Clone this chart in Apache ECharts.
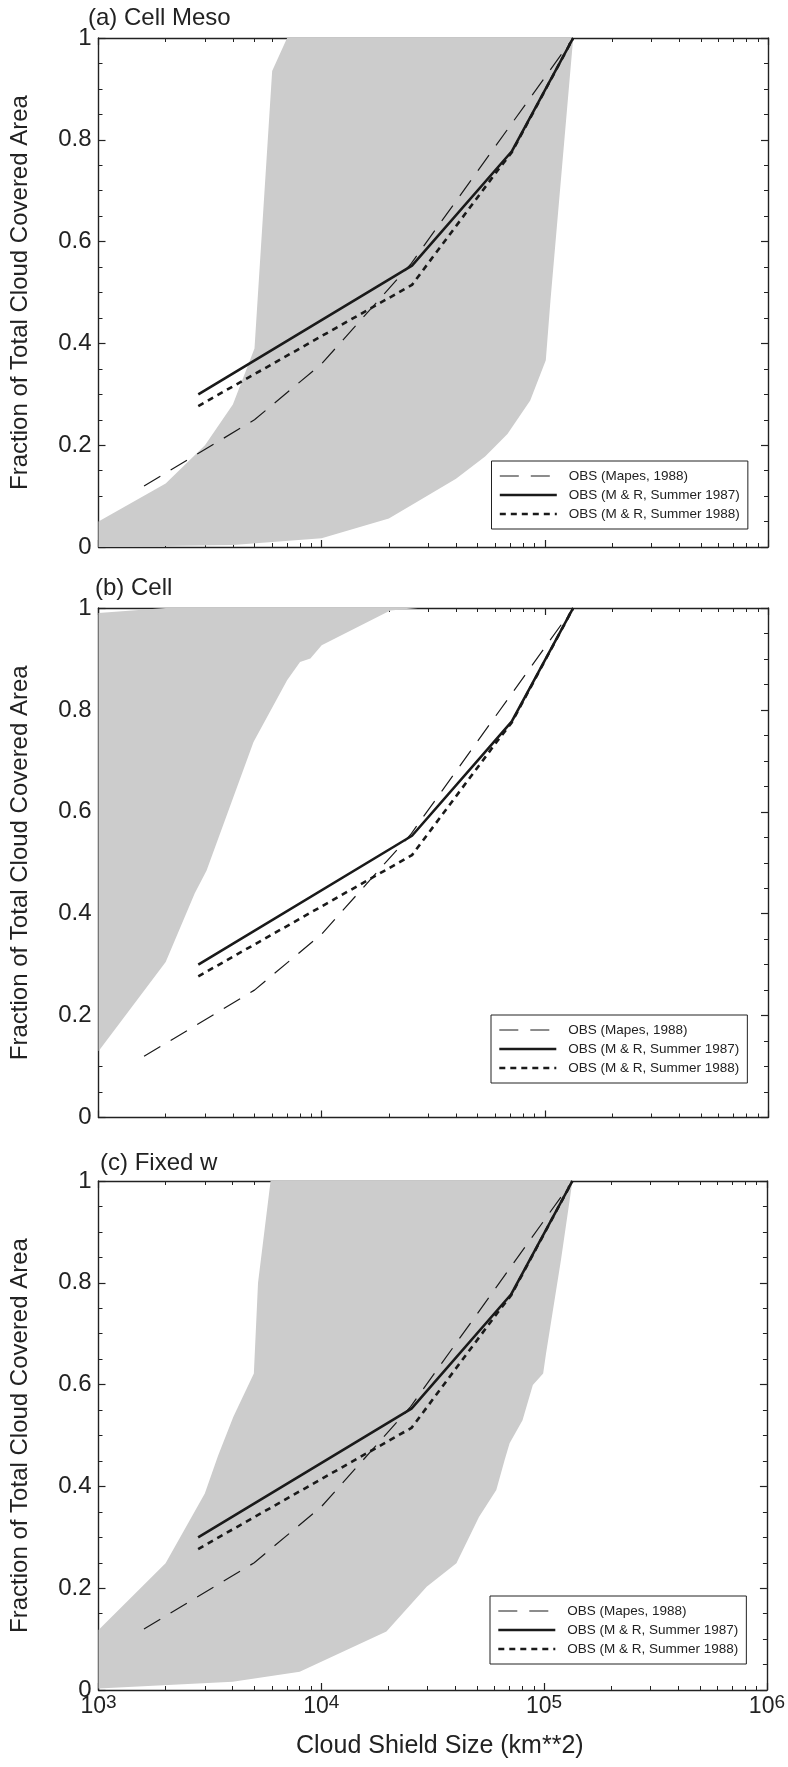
<!DOCTYPE html>
<html>
<head>
<meta charset="utf-8">
<script src="https://cdn.jsdelivr.net/npm/echarts@6/dist/echarts.min.js"></script>
<style>
html,body{margin:0;padding:0;background:#fff;}
#c{width:788px;height:1767px;}
</style>
</head>
<body>
<div id="c"></div>
<script>
// ---------- data ----------
const panelTitles = ['(a) Cell Meso', '(b) Cell', '(c) Fixed w'];
const seriesNames = ['OBS (Mapes, 1988)', 'OBS (M & R, Summer 1987)', 'OBS (M & R, Summer 1988)'];
const xMajorTicks = [1000, 10000, 100000, 1000000];
const xMinorTicks = [2000,3000,4000,5000,6000,7000,8000,9000,
                     20000,30000,40000,50000,60000,70000,80000,90000,
                     200000,300000,400000,500000,600000,700000,800000,900000];
const yMin = 0, yMax = 1, yInterval = 0.2;

// observations (same in every panel): [cloud shield size km^2, fraction]
const obsMapes = [[1600,0.12],[5000,0.25],[10000,0.36],[25000,0.555],[134000,1.0]];
const obs1987  = [[2800,0.30],[25400,0.553],[71000,0.777],[134000,1.0]];
const obs1988  = [[2800,0.277],[25400,0.515],[62000,0.742],[71000,0.775],[134000,1.0]];

// shaded model ranges (polygon outlines)
const bandA = [[1000,0],[1000,0.05],[2000,0.125],[3000,0.2],[4000,0.28],[5000,0.39],[6000,0.935],[7000,1.0],
               [134000,1.0],[106000,0.485],[101000,0.367],[86000,0.288],[68000,0.222],[54000,0.178],
               [40000,0.134],[26800,0.089],[20000,0.056],[10000,0.017],[4000,0.004],[1000,0]];
const bandB = [[1000,0.13],[2000,0.305],[2700,0.44],[3050,0.485],[4950,0.737],[7000,0.858],[8000,0.894],
               [8900,0.901],[10000,0.927],[20300,0.995],[27000,1.0],[2000,1.0],[1000,0.99]];
const bandC = [[1000,0.003],[1000,0.118],[2000,0.249],[3000,0.386],[3440,0.46],[4030,0.537],[4980,0.622],
               [5200,0.8],[5920,1.0],[134000,1.0],[119000,0.845],[102000,0.661],[99000,0.622],[89000,0.599],
               [80000,0.53],[70000,0.485],[66500,0.452],[61000,0.393],[51000,0.34],[40400,0.249],
               [29700,0.203],[19600,0.115],[8000,0.036],[4000,0.016],[1000,0.003]];
const bands = [bandA, bandB, bandC];

// ---------- layout ----------
const FONT = '"Liberation Sans", Arial, Helvetica, sans-serif';
const INK = '#222';
const LINE = '#1a1a1a';
const grids = [
  {left: 98.5, top: 38, width: 669.5, height: 509},
  {left: 98.5, top: 608, width: 669.5, height: 509.5},
  {left: 98.5, top: 1181, width: 669.5, height: 509}
];
const legendPos = [{left: 491.5, top: 461}, {left: 491, top: 1015}, {left: 490, top: 1596}];
const titlePos = [{left: 88, top: 6}, {left: 95, top: 576}, {left: 100, top: 1151}];

const xAxes = [], yAxes = [], series = [], legends = [], titles = [];

grids.forEach((g, gi) => {
  const xb = gi * 4, yb = gi * 2;
  const common = {type: 'log', logBase: 10, min: 1000, max: 1000000, gridIndex: gi,
                  splitLine: {show: false}, minorSplitLine: {show: false}};
  // bottom major
  xAxes.push(Object.assign({}, common, {
    position: 'bottom',
    axisLine: {show: true, lineStyle: {color: INK, width: 1.4}},
    axisTick: {show: true, inside: true, length: 7, customValues: xMajorTicks, lineStyle: {color: INK, width: 1.2}},
    axisLabel: {
      show: gi === 2, margin: 3, customValues: xMajorTicks,
      color: INK, fontFamily: FONT, fontSize: 23,
      formatter: v => '10{s|' + Math.round(Math.log10(v)) + '}',
      rich: {s: {fontSize: 19, fontFamily: FONT, color: INK, verticalAlign: 'top', padding: [0, 0, 8, 0]}}
    }
  }));
  // bottom minor
  xAxes.push(Object.assign({}, common, {
    position: 'bottom',
    axisLine: {show: false},
    axisTick: {show: true, inside: true, length: 4, customValues: xMinorTicks, lineStyle: {color: INK, width: 1}},
    axisLabel: {show: false}
  }));
  // top major
  xAxes.push(Object.assign({}, common, {
    position: 'top',
    axisLine: {show: true, lineStyle: {color: INK, width: 1.4}},
    axisTick: {show: true, inside: true, length: 7, customValues: xMajorTicks, lineStyle: {color: INK, width: 1.2}},
    axisLabel: {show: false}
  }));
  // top minor
  xAxes.push(Object.assign({}, common, {
    position: 'top',
    axisLine: {show: false},
    axisTick: {show: true, inside: true, length: 4, customValues: xMinorTicks, lineStyle: {color: INK, width: 1}},
    axisLabel: {show: false}
  }));

  const ycommon = {type: 'value', min: yMin, max: yMax, interval: yInterval, gridIndex: gi,
    splitLine: {show: false},
    axisLine: {show: true, lineStyle: {color: INK, width: 1.4}},
    axisTick: {show: true, inside: true, length: 7, lineStyle: {color: INK, width: 1.2}},
    minorTick: {show: true, splitNumber: 4, length: 4, lineStyle: {color: INK, width: 1}}
  };
  yAxes.push(Object.assign({}, ycommon, {
    position: 'left',
    name: 'Fraction of Total Cloud Covered Area',
    nameLocation: 'middle', nameRotate: 90, nameGap: 66,
    nameTextStyle: {fontFamily: FONT, fontSize: 24, color: INK},
    axisLabel: {show: true, margin: 7, color: INK, fontFamily: FONT, fontSize: 24}
  }));
  yAxes.push(Object.assign({}, ycommon, {
    position: 'right',
    axisLabel: {show: false}
  }));

  series.push({
    type: 'custom', xAxisIndex: xb, yAxisIndex: yb, z: 1, silent: true,
    data: bands[gi],
    renderItem: (params, api) => {
      if (params.dataIndex !== 0) return;
      const pts = bands[gi].map(p => api.coord(p));
      return {type: 'polygon', shape: {points: pts}, style: {fill: '#cccccc'}};
    }
  });
  series.push({
    name: seriesNames[0], type: 'line', xAxisIndex: xb, yAxisIndex: yb, z: 3,
    data: obsMapes, symbol: 'none', silent: true,
    itemStyle: {color: LINE},
    lineStyle: {color: LINE, width: 1.2, type: [19, 12]}
  });
  series.push({
    name: seriesNames[1], type: 'line', xAxisIndex: xb, yAxisIndex: yb, z: 3,
    data: obs1987, symbol: 'none', silent: true,
    itemStyle: {color: LINE},
    lineStyle: {color: LINE, width: 2.6, type: 'solid'}
  });
  series.push({
    name: seriesNames[2], type: 'line', xAxisIndex: xb, yAxisIndex: yb, z: 3,
    data: obs1988, symbol: 'none', silent: true,
    itemStyle: {color: LINE},
    lineStyle: {color: LINE, width: 2.6, type: [6, 5]}
  });

  legends.push({
    data: seriesNames, orient: 'vertical', selectedMode: false,
    left: legendPos[gi].left, top: legendPos[gi].top,
    itemWidth: 57, itemHeight: 14, itemGap: 5,
    padding: [8, 8, 8, 7],
    borderColor: INK, borderWidth: 1, backgroundColor: '#fff',
    itemStyle: {opacity: 0, borderWidth: 0},
    lineStyle: {width: 'inherit', type: 'inherit', color: LINE},
    textStyle: {fontFamily: FONT, fontSize: 13.5, color: INK, padding: [0, 0, 0, 7]}
  });

  titles.push({
    text: panelTitles[gi], left: titlePos[gi].left, top: titlePos[gi].top, padding: 0,
    textStyle: {fontFamily: FONT, fontSize: 24, fontWeight: 'normal', color: INK}
  });
});

titles.push({
  text: 'Cloud Shield Size (km**2)', left: 296, top: 1734, padding: 0,
  textStyle: {fontFamily: FONT, fontSize: 25, fontWeight: 'normal', color: INK}
});

const chart = echarts.init(document.getElementById('c'), null, {renderer: 'canvas', width: 788, height: 1767});
chart.setOption({
  animation: false,
  backgroundColor: '#fff',
  title: titles,
  legend: legends,
  grid: grids.map(g => Object.assign({containLabel: false}, g)),
  xAxis: xAxes,
  yAxis: yAxes,
  series: series
});
</script>
</body>
</html>
